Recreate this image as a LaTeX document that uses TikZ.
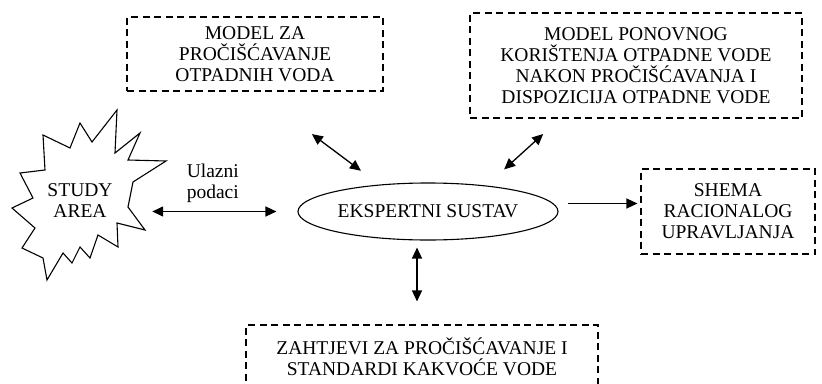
\documentclass[tikz,border=0pt]{standalone}
\usepackage{fontspec}
\setmainfont{Liberation Serif}
\usetikzlibrary{shapes.geometric, positioning, arrows.meta}

\tikzset{
  box/.style={draw, dashed, dash pattern=on 7pt off 4.5pt, line width=1.1pt, align=center, inner sep=0pt},
  link/.style={<->, >={Triangle[length=11pt, width=10pt]}, line width=1.3pt},
}

\begin{document}
\begin{tikzpicture}[x=1pt, y=1pt, node distance=2cm, on grid, font=\fontsize{19.5}{21}\selectfont]
    \useasboundingbox (0,0) rectangle (822,-383);

    \node[ellipse, draw, line width=1.1pt, minimum width=260pt, minimum height=57pt, inner sep=0pt] (es) at (428,-211.5) {EKSPERTNI SUSTAV};
    \node[box, minimum width=256pt, minimum height=74pt] (m1) [above left=157.5pt and 173pt of es] {MODEL ZA\\PROČIŠĆAVANJE\\OTPADNIH VODA};
    \node[box, minimum width=332pt, minimum height=105pt] (m2) [above right=146pt and 208pt of es] {MODEL PONOVNOG\\KORIŠTENJA OTPADNE VODE\\NAKON PROČIŠĆAVANJA I\\DISPOZICIJA OTPADNE VODE};
    \node[box, minimum width=174pt, minimum height=85pt] (sh) [right=300pt of es] {SHEMA\\RACIONALOG\\UPRAVLJANJA};
    \node[box, minimum width=352pt, minimum height=64pt] (zv) [below left=145.5pt and 6pt of es] {ZAHTJEVI ZA PROČIŠĆAVANJE I\\STANDARDI KAKVOĆE VODE};

    % study area burst
    \draw[line width=1.1pt, line join=miter]
        (117,-110) -- (115,-153) -- (140,-133) -- (128,-160) -- (166,-161) -- (133,-182)
        -- (128,-207) -- (145,-230) -- (117,-223) -- (118,-247) -- (98,-235) -- (90,-258)
        -- (80,-247) -- (72,-263) -- (63,-253) -- (47,-280) -- (43,-258) -- (22,-248)
        -- (35,-228) -- (12,-208) -- (33,-198) -- (20,-173) -- (45,-170) -- (43,-135)
        -- (70,-148) -- (80,-123) -- (92,-142) -- cycle;
    \node[align=center, minimum width=96pt, inner sep=0pt] (sa) at (80,-201) {STUDY\\AREA};

        \path[link]
        (sa.east |- es.west)    edge[shorten <=24pt, shorten >=21pt] node[above=5pt, align=center] {Ulazni\\podaci} (es.west)
        (m1.south)              edge[shorten <=71pt, shorten >=23pt] (es.151)
        (m2.215)                edge[shorten <=23pt, shorten >=24pt] (es.24)
        ([yshift=8pt]es.east)   edge[->, shorten <=9pt, shorten >=3pt] ([yshift=8pt]es.east -| sh.west)
        ([xshift=-11pt]es.south) edge[shorten <=7pt, shorten >=23pt] ([xshift=-11pt]es.south |- zv.north);

\end{tikzpicture}
\end{document}
